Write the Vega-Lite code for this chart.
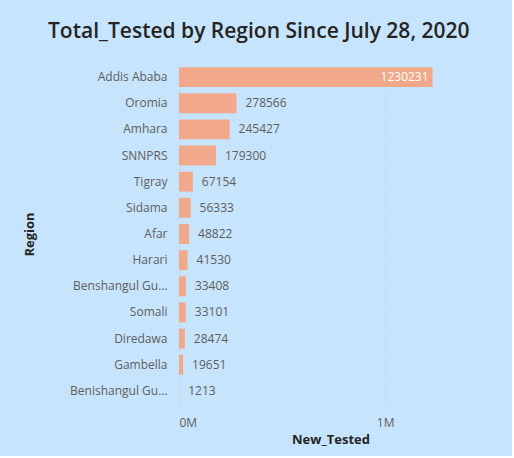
{
  "$schema": "https://vega.github.io/schema/vega-lite/v6.json",
  "width": 303,
  "height": 340,
  "padding": {"left": 23, "top": 21, "right": 30, "bottom": 10},
  "background": "#C6E4FC",
  "title": {
    "text": "Total_Tested by Region Since July 28, 2020",
    "font": "Open Sans",
    "fontSize": 21,
    "fontWeight": 600,
    "color": "#252423",
    "anchor": "middle",
    "frame": "bounds",
    "dx": 6,
    "offset": 22
  },
  "data": {
    "values": [
      {"Region": "Addis Ababa", "New_Tested": 1230231},
      {"Region": "Oromia", "New_Tested": 278566},
      {"Region": "Amhara", "New_Tested": 245427},
      {"Region": "SNNPRS", "New_Tested": 179300},
      {"Region": "Tigray", "New_Tested": 67154},
      {"Region": "Sidama", "New_Tested": 56333},
      {"Region": "Afar", "New_Tested": 48822},
      {"Region": "Harari", "New_Tested": 41530},
      {"Region": "Benshangul Gumuz", "New_Tested": 33408},
      {"Region": "Somali", "New_Tested": 33101},
      {"Region": "Diredawa", "New_Tested": 28474},
      {"Region": "Gambella", "New_Tested": 19651},
      {"Region": "Benishangul Gumuz", "New_Tested": 1213}
    ]
  },
  "encoding": {
    "y": {
      "field": "Region",
      "type": "nominal",
      "sort": ["Addis Ababa", "Oromia", "Amhara", "SNNPRS", "Tigray", "Sidama", "Afar", "Harari", "Benshangul Gumuz", "Somali", "Diredawa", "Gambella", "Benishangul Gumuz"],
      "scale": {"paddingInner": 0.24, "paddingOuter": 0.12},
      "axis": {
        "title": "Region",
        "titleFont": "Open Sans",
        "titleFontSize": 13,
        "titleFontWeight": "bold",
        "titleColor": "#252423",
        "titlePadding": 33,
        "labelFont": "Open Sans",
        "labelFontSize": 12,
        "labelColor": "#605E5C",
        "labelLimit": 104,
        "labelPadding": 12,
        "ticks": false,
        "domain": false,
        "grid": false
      }
    },
    "x": {
      "field": "New_Tested",
      "type": "quantitative",
      "scale": {"domain": [0, 1470000], "nice": false},
      "axis": {
        "title": "New_Tested",
        "titleFont": "Open Sans",
        "titleFontSize": 13,
        "titleFontWeight": "bold",
        "titleColor": "#252423",
        "titlePadding": 5,
        "values": [0, 1000000],
        "labelExpr": "datum.value / 1000000 + 'M'",
        "labelFont": "Open Sans",
        "labelFontSize": 12,
        "labelColor": "#605E5C",
        "labelPadding": 13,
        "ticks": false,
        "domain": false,
        "grid": true,
        "gridColor": "#C8C8C8",
        "gridDash": [1, 5],
        "gridWidth": 1.5
      }
    }
  },
  "layer": [
    {"mark": {"type": "bar", "color": "#F2A98B"}},
    {
      "transform": [{"filter": "datum.New_Tested < 1000000"}],
      "mark": {"type": "text", "align": "left", "baseline": "middle", "dx": 9, "font": "Open Sans", "fontSize": 12, "color": "#605E5C"},
      "encoding": {"text": {"field": "New_Tested", "type": "quantitative", "format": "d"}}
    },
    {
      "transform": [{"filter": "datum.New_Tested >= 1000000"}],
      "mark": {"type": "text", "align": "right", "baseline": "middle", "dx": -4, "font": "Open Sans", "fontSize": 12, "color": "#FFFFFF"},
      "encoding": {"text": {"field": "New_Tested", "type": "quantitative", "format": "d"}}
    }
  ],
  "config": {"view": {"stroke": null}}
}
